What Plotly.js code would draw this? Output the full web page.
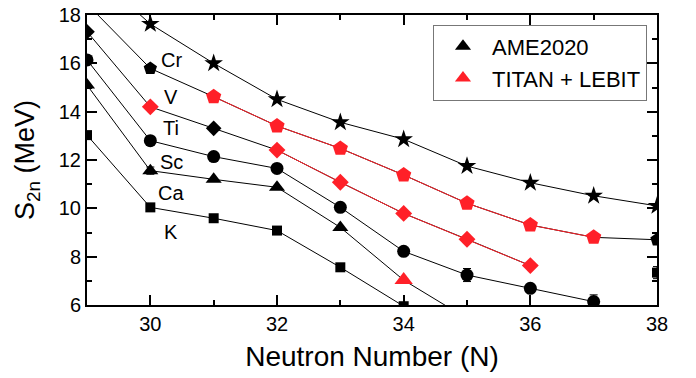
<!DOCTYPE html>
<html>
<head>
<meta charset="utf-8">
<script src="https://cdn.plot.ly/plotly-3.0.1.min.js"></script>
<style>html,body{margin:0;padding:0;background:#fff;}#chart{width:696px;height:378px;}</style>
</head>
<body>
<div id="chart"></div>
<script>
// Neutron numbers
const N = [29, 30, 31, 32, 33, 34, 35, 36, 37, 38];

// Two-neutron separation energies S2n (MeV)
const Cr = [19.97, 17.63, 16.00, 14.51, 13.56, 12.86, 11.75, 11.06, 10.52, 10.10];
const V  = [18.46, 15.79, 14.62, 13.41, 12.48, 11.38, 10.21, 9.31, 8.80, 8.70];
const Ti = [17.31, 14.20, 13.31, 12.41, 11.08, 9.79, 8.72, 7.63, null, null];
const Sc = [16.14, 12.80, 12.14, 11.65, 10.04, 8.22, 7.24, 6.69, 6.14, null];
const Ca = [15.10, 11.56, 11.20, 10.87, 9.21, 7.03, 5.44, null, null, null];
const K  = [13.03, 10.04, 9.59, 9.08, 7.56, 5.95, null, null, null, 7.34];

// Uncertainties (MeV) where visible
const ScErr = [null, null, null, null, null, null, 0.27, 0.10, 0.28, null];
const TiErr = [null, null, null, null, null, null, null, 0.12, null, null];
const CaErr = [null, 0.15, null, null, null, null, null, null, null, null];
const KErr  = [null, null, null, null, null, null, null, null, null, 0.25];

// Neutron numbers measured by TITAN + LEBIT (red)
const V_new  = [31, 32, 33, 34, 35, 36, 37];
const Ti_new = [30, 32, 33, 34, 35, 36];
const Ca_new = [34];

// Element labels
const elements = ['Cr', 'V', 'Ti', 'Sc', 'Ca', 'K'];
const legendNames = ['AME2020', 'TITAN + LEBIT'];

const BLACK = '#000000';
const RED = '#ff2028';

const series = [
  {name: 'Cr', y: Cr, sym: 'star', size: 14, redSize: 14, isNew: [], err: null},
  {name: 'V', y: V, sym: 'pentagon', size: 14, redSize: 16, isNew: V_new, err: null},
  {name: 'Ti', y: Ti, sym: 'diamond', size: 12, redSize: 13, isNew: Ti_new, err: TiErr},
  {name: 'Sc', y: Sc, sym: 'circle', size: 13, redSize: 13, isNew: [], err: ScErr},
  {name: 'Ca', y: Ca, sym: 'triangle-up', size: 14, redSize: 16, isNew: Ca_new, err: CaErr},
  {name: 'K', y: K, sym: 'square', size: 10, redSize: 10, isNew: [], err: KErr}
];

const traces = [];
series.forEach(s => {
  traces.push({
    x: N, y: s.y, type: 'scatter', mode: 'lines', showlegend: false,
    line: {color: BLACK, width: 1}, connectgaps: false, hoverinfo: 'skip'
  });
  const yb = s.y.map((v, i) => s.isNew.includes(N[i]) ? null : v);
  const tb = {
    x: N, y: yb, type: 'scatter', mode: 'markers', showlegend: false,
    marker: {symbol: s.sym, size: s.size, color: BLACK, line: {width: 0}}
  };
  if (s.err) {
    tb.error_y = {type: 'data', array: s.err.map((e, i) => s.isNew.includes(N[i]) ? null : e),
      visible: true, color: BLACK, thickness: 1, width: 4};
  }
  traces.push(tb);
  if (s.isNew.length) {
    const yr = s.y.map((v, i) => s.isNew.includes(N[i]) ? v : null);
    const tr = {
      x: N, y: yr, type: 'scatter', mode: 'lines+markers', showlegend: false,
      connectgaps: false, line: {color: RED, width: 1},
      marker: {symbol: s.sym, size: s.redSize, color: RED, line: {width: 0}}
    };
    if (s.err) {
      tr.error_y = {type: 'data', array: s.err.map((e, i) => s.isNew.includes(N[i]) ? e : null),
        visible: true, color: RED, thickness: 1, width: 4};
    }
    traces.push(tr);
  }
});

traces.push({x: [null], y: [null], type: 'scatter', mode: 'markers', name: legendNames[0],
  marker: {symbol: 'triangle-up', size: 14, color: BLACK}});
traces.push({x: [null], y: [null], type: 'scatter', mode: 'markers', name: legendNames[1],
  marker: {symbol: 'triangle-up', size: 14, color: RED}});

const labelX = 30.33;
const labelY = [16.14, 14.62, 13.32, 11.93, 10.65, 9.03];
const annotations = elements.map((e, i) => ({
  x: labelX, y: labelY[i], xref: 'x', yref: 'y', text: e, showarrow: false,
  xanchor: 'center', yanchor: 'middle', font: {size: 20, color: BLACK}
}));

const FONT = 'Liberation Sans, Arial, Helvetica, sans-serif';
const axisCommon = {
  showline: true, linewidth: 2, linecolor: BLACK, mirror: 'ticks',
  ticks: 'inside', ticklen: 10, tickwidth: 2, tickcolor: BLACK,
  showgrid: false, zeroline: false, tickfont: {size: 20, color: BLACK},
  minor: {ticks: 'inside', ticklen: 5, tickwidth: 2, tickcolor: BLACK, dtick: 1, showgrid: false}
};

const layout = {
  width: 696, height: 378,
  margin: {l: 87, r: 39, t: 15, b: 73},
  paper_bgcolor: '#fff', plot_bgcolor: '#fff',
  font: {family: FONT, color: BLACK},
  showlegend: true,
  legend: {
    x: 0.607, y: 0.967, xanchor: 'left', yanchor: 'top',
    bordercolor: '#777', borderwidth: 1, bgcolor: '#fff',
    font: {size: 22, color: BLACK}, itemwidth: 48, tracegroupgap: 0
  },
  xaxis: Object.assign({}, axisCommon, {
    range: [29, 38], tickmode: 'linear', tick0: 0, dtick: 2,
    title: {text: 'Neutron Number (N)', font: {size: 28, color: BLACK}, standoff: 12}
  }),
  yaxis: Object.assign({}, axisCommon, {
    range: [6, 18], tickmode: 'linear', tick0: 0, dtick: 2,
    title: {text: 'S<sub>2n</sub> (MeV)', font: {size: 27, color: BLACK}, standoff: 16}
  }),
  annotations: annotations
};

Plotly.newPlot('chart', traces, layout, {displayModeBar: false, staticPlot: true});
</script>
</body>
</html>
